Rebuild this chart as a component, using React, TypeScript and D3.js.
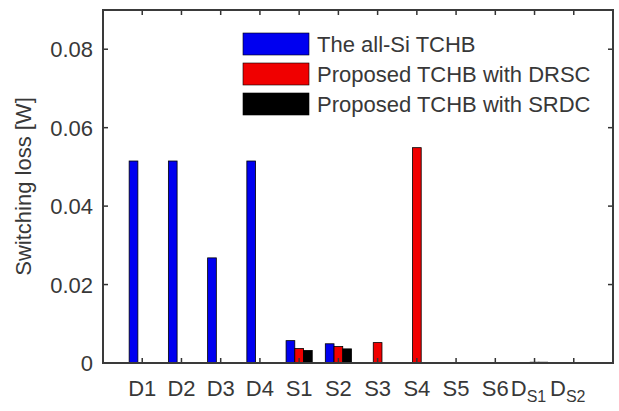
import React from 'react';
import { scaleLinear, scaleBand } from 'd3';

const width = 619;
const height = 411;
const margins = { top: 10, bottom: 48, left: 103, right: 6 };

// categories along x; the last two get a subscript
const categories = ['D1', 'D2', 'D3', 'D4', 'S1', 'S2', 'S3', 'S4', 'S5', 'S6', 'DS1', 'DS2'];
const series = ['The all-Si TCHB', 'Proposed TCHB with DRSC', 'Proposed TCHB with SRDC'];
const colors = ['#0000f0', '#f00000', '#000000'];

const allSi = [0.0515, 0.0515, 0.0268, 0.0515, 0.0057, 0.0049, 0, 0, 0, 0, 0, 0];
const drsc = [0, 0, 0, 0, 0.0037, 0.0042, 0.0052, 0.0549, 0, 0, 0.0002, 0];
const srdc = [0, 0, 0, 0, 0.0032, 0.0036, 0, 0, 0, 0, 0.0002, 0];
const yTicks = [0, 0.02, 0.04, 0.06, 0.08];

const values = [allSi, drsc, srdc];
const font = '"Liberation Sans", Arial, sans-serif';
const textColor = '#383838';

export default function App() {
  const x0 = margins.left;
  const x1 = width - margins.right;
  const y0 = height - margins.bottom;
  const y1 = margins.top;

  const xScale = scaleLinear().domain([0, categories.length + 1]).range([x0, x1]);
  const yScale = scaleLinear().domain([0, 0.09]).range([y0, y1]);
  // position of each series inside a group, in category units
  const inner = scaleBand().domain(series).range([-1 / 3, 1 / 3]);
  const barW = xScale(inner.bandwidth()) - xScale(0);

  const label = (c: string) => {
    if (c.startsWith('DS')) {
      return (
        <>
          D<tspan fontSize={16} dy={6}>{'S' + c.slice(2)}</tspan>
        </>
      );
    }
    return c;
  };

  return (
    <svg width={width} height={height} style={{ position: 'absolute', left: 0, top: 0, background: '#fff' }}>
      {/* bars */}
      {series.map((s, si) => (
        <g key={s}>
          {values[si].map((v, i) =>
            v > 0 ? (
              <rect
                key={i}
                x={xScale(i + 1 + (inner(s) as number))}
                y={yScale(v)}
                width={barW}
                height={yScale(0) - yScale(v)}
                fill={colors[si]}
                stroke="#000"
                strokeWidth={0.8}
              />
            ) : null
          )}
        </g>
      ))}

      {/* y ticks */}
      {yTicks.map((t) => (
        <g key={t}>
          <line x1={x0} x2={x0 + 5} y1={yScale(t)} y2={yScale(t)} stroke="#333" strokeWidth={1.5} />
          <line x1={x1} x2={x1 - 5} y1={yScale(t)} y2={yScale(t)} stroke="#333" strokeWidth={1.5} />
          <text x={x0 - 10} y={yScale(t) + 8} textAnchor="end" fontSize={22} fontFamily={font} fill={textColor}>
            {t === 0 ? '0' : t.toFixed(2)}
          </text>
        </g>
      ))}

      {/* x ticks */}
      {categories.map((c, i) => (
        <g key={c}>
          <line x1={xScale(i + 1)} x2={xScale(i + 1)} y1={y0} y2={y0 - 5} stroke="#333" strokeWidth={1.5} />
          <line x1={xScale(i + 1)} x2={xScale(i + 1)} y1={y1} y2={y1 + 5} stroke="#333" strokeWidth={1.5} />
          <text
            x={xScale(i + 1) - (c.startsWith('DS') ? 6 : 0)}
            y={y0 + 33}
            textAnchor="middle"
            fontSize={22}
            fontFamily={font}
            fill={textColor}
          >
            {label(c)}
          </text>
        </g>
      ))}

      {/* box */}
      <rect x={x0} y={y1} width={x1 - x0} height={y0 - y1} fill="none" stroke="#3a3a3a" strokeWidth={2} />

      <text
        transform={`translate(31,${(y0 + y1) / 2}) rotate(-90)`}
        textAnchor="middle"
        fontSize={22}
        fontFamily={font}
        fill={textColor}
      >
        Switching loss [W]
      </text>

      {/* legend */}
      {series.map((s, si) => (
        <g key={s} transform={`translate(243,${33 + si * 30})`}>
          <rect width={66} height={22} fill={colors[si]} stroke="#000" strokeWidth={0.6} />
          <text x={74} y={19} fontSize={22} fontFamily={font} fill={textColor}>
            {s}
          </text>
        </g>
      ))}
    </svg>
  );
}
